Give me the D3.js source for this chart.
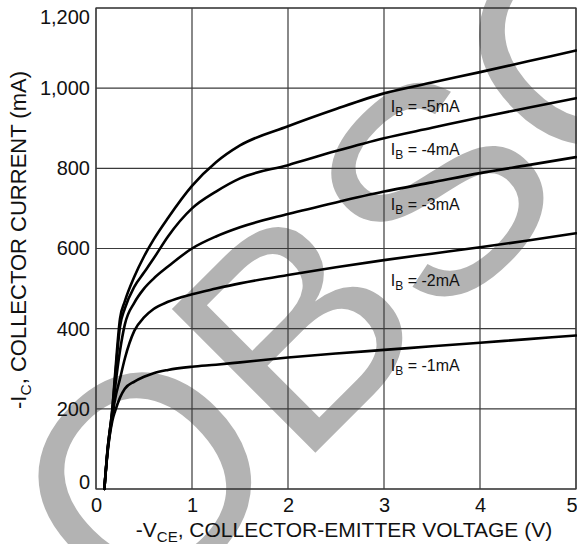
<!DOCTYPE html>
<html>
<head>
<meta charset="utf-8">
<script src="https://cdn.jsdelivr.net/npm/d3@7/dist/d3.min.js"></script>
<style>
  html, body { margin: 0; padding: 0; background: #fff; }
  svg { display: block; }
</style>
</head>
<body>
<script>
// Collector-emitter voltage samples (V), shared by every base-current curve
const vce = [0.087, 0.12, 0.17, 0.2, 0.25, 0.3, 0.4, 0.5, 0.6, 0.75, 1.0, 1.25, 1.5, 2.0, 2.5, 3.0, 3.5, 4.0, 4.5, 5.0];

// Collector current (mA) for each base current
const icB5 = [0, 98, 200, 290, 425, 468, 530, 580, 622, 676, 756, 815, 857, 905, 948, 987, 1014, 1040, 1067, 1094];
const icB4 = [0, 96, 198, 280, 405, 450, 505, 540, 575, 630, 700, 742, 775, 808, 843, 875, 901, 927, 951, 975];
const icB3 = [0, 95, 190, 255, 345, 410, 465, 500, 525, 555, 600, 630, 653, 686, 715, 742, 765, 788, 808, 828];
const icB2 = [0, 92, 180, 225, 275, 325, 395, 428, 449, 467, 486, 500, 513, 534, 553, 571, 587, 603, 620, 638];
const icB1 = [0, 90, 170, 195, 228, 250, 268, 280, 289, 297, 305, 310, 316, 328, 338, 347, 356, 365, 374, 383];

const baseCurrents = ["-5mA", "-4mA", "-3mA", "-2mA", "-1mA"];
const xTicks = [0, 1, 2, 3, 4, 5];
const yTicks = [0, 200, 400, 600, 800, 1000, 1200];

const series = [icB5, icB4, icB3, icB2, icB1].map((ic, k) => ({
  label: baseCurrents[k],
  points: vce.map((v, i) => [v, ic[i]])
}));

const W = 577, H = 544;
const plot = { left: 96, right: 576, top: 8, bottom: 489 };
const FONT = "'Liberation Sans', Arial, Helvetica, sans-serif";

const svg = d3.select("body").append("svg")
  .attr("width", W).attr("height", H)
  .style("font-family", FONT);

const x = d3.scaleLinear().domain([0, 5]).range([plot.left, plot.right]);
const y = d3.scaleLinear().domain([0, 1200]).range([plot.bottom, plot.top]);

// Grey diagonal stamp behind the chart
svg.append("text")
  .attr("transform", "translate(136,632) rotate(-45)")
  .attr("font-size", 295)
  .attr("fill", "#b3b3b3")
  .text("OBSOLETE");

// Grid
const grid = svg.append("g").attr("stroke", "#3a3a3a").attr("stroke-width", 1.2);
grid.selectAll("line.v").data(xTicks).join("line")
  .attr("x1", d => x(d)).attr("x2", d => x(d))
  .attr("y1", plot.top).attr("y2", plot.bottom);
grid.selectAll("line.h").data(yTicks).join("line")
  .attr("x1", plot.left).attr("x2", plot.right)
  .attr("y1", d => y(d)).attr("y2", d => y(d));
svg.append("rect")
  .attr("x", plot.left).attr("y", plot.top)
  .attr("width", plot.right - plot.left).attr("height", plot.bottom - plot.top)
  .attr("fill", "none").attr("stroke", "#3a3a3a").attr("stroke-width", 1.2);

// Axes (labels only; the grid carries the lines)
const xAxis = svg.append("g")
  .attr("transform", `translate(0,${plot.bottom})`)
  .call(d3.axisBottom(x).tickValues(xTicks).tickSize(0).tickPadding(9).tickFormat(d3.format("d")));
const yAxis = svg.append("g")
  .attr("transform", `translate(${plot.left},0)`)
  .call(d3.axisLeft(y).tickValues(yTicks).tickSize(0).tickPadding(6).tickFormat(d3.format(",")));
[xAxis, yAxis].forEach(g => {
  g.select(".domain").remove();
  g.selectAll("text").attr("font-family", FONT).attr("font-size", 20).attr("fill", "#111");
});
// keep the end labels inside the page
yAxis.selectAll(".tick").filter(d => d === 1200).select("text").attr("y", 9);
yAxis.selectAll(".tick").filter(d => d === 0).select("text").attr("y", -7);
xAxis.selectAll(".tick").filter(d => d === 5).select("text").attr("text-anchor", "end").attr("x", 1);

// Characteristic curves
const line = d3.line().x(d => x(d[0])).y(d => y(d[1])).curve(d3.curveMonotoneX);
svg.append("g").selectAll("path").data(series).join("path")
  .attr("d", d => line(d.points))
  .attr("fill", "none").attr("stroke", "#000").attr("stroke-width", 2.6)
  .attr("stroke-linejoin", "round").attr("stroke-linecap", "round");

// Curve labels, set just below each curve
const labelV = 3.07;
const labelDy = [20, 18, 20, 27, 22];
series.forEach((s, k) => {
  const iAt = d3.scaleLinear().domain(vce).range(s.points.map(p => p[1]))(labelV);
  const t = svg.append("text")
    .attr("x", x(labelV)).attr("y", y(iAt) + labelDy[k])
    .attr("font-size", 16).attr("fill", "#111");
  t.append("tspan").text("I");
  t.append("tspan").attr("font-size", 12).attr("dy", 4).text("B");
  t.append("tspan").attr("dy", -4).text(" = " + s.label);
});

// Axis titles
const xt = svg.append("text")
  .attr("x", (plot.left + plot.right) / 2 + 8).attr("y", 537)
  .attr("text-anchor", "middle").attr("font-size", 21).attr("fill", "#111");
xt.append("tspan").text("-V");
xt.append("tspan").attr("font-size", 15).attr("dy", 5).text("CE");
xt.append("tspan").attr("dy", -5).text(", COLLECTOR-EMITTER VOLTAGE (V)");

const yt = svg.append("text")
  .attr("transform", "translate(26,240) rotate(-90)")
  .attr("text-anchor", "middle").attr("font-size", 22).attr("fill", "#111");
yt.append("tspan").text("-I");
yt.append("tspan").attr("font-size", 15.5).attr("dy", 5).text("C");
yt.append("tspan").attr("dy", -5).text(", COLLECTOR CURRENT (mA)");
</script>
</body>
</html>
